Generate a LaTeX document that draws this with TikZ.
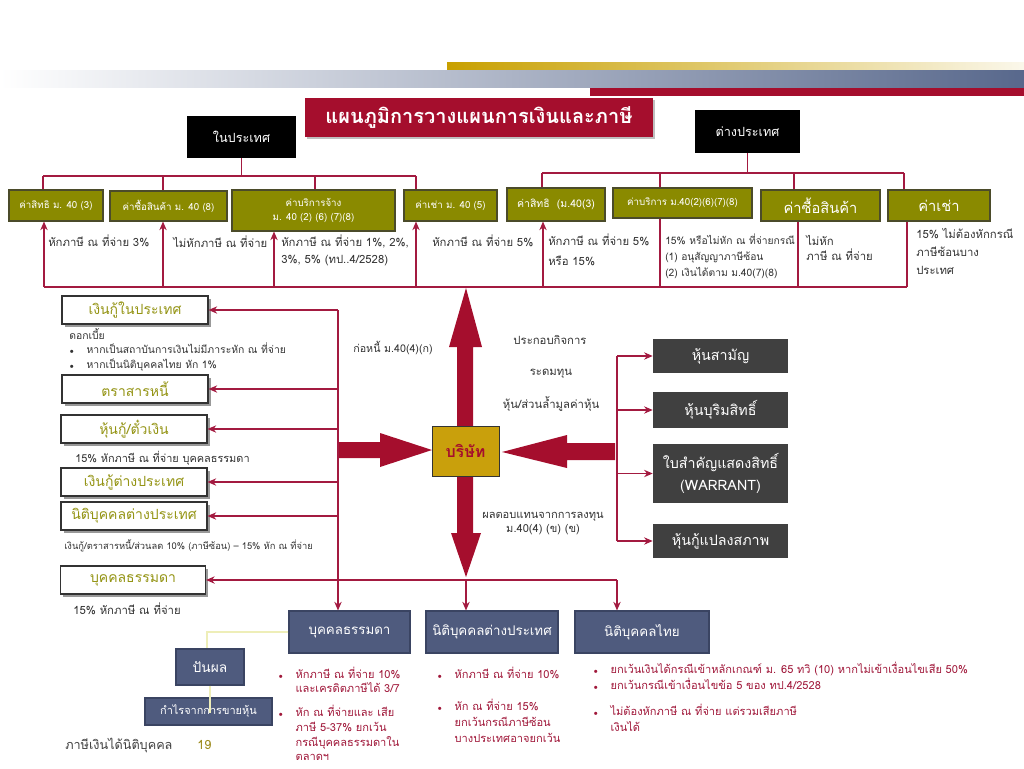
\documentclass[tikz,border=0pt]{standalone}
\usepackage{fontspec}
\setmainfont[Script=Thai]{Loma}
\usetikzlibrary{arrows.meta, shadows}
\definecolor{crim}{HTML}{A31A40}
\definecolor{darkred}{HTML}{A50E2D}
\definecolor{olivebox}{HTML}{8A8A00}
\definecolor{oliveedge}{HTML}{4B4B2A}
\definecolor{oliveink}{HTML}{949414}
\definecolor{slate}{HTML}{4F5B7E}
\definecolor{slateedge}{HTML}{3A4462}
\definecolor{darkbox}{HTML}{404040}
\definecolor{gold}{HTML}{C9A00C}
\definecolor{goldbar}{HTML}{C8A000}
\definecolor{barblue}{HTML}{58688C}
\definecolor{ink}{HTML}{333333}
\definecolor{redink}{HTML}{A0183A}
\definecolor{paleline}{HTML}{EEEEB8}
\definecolor{pageno}{HTML}{9C8A1C}
\newcommand{\bulletmark}{\makebox[13pt][l]{\fontsize{5.5}{6}\selectfont$\bullet$}}
\newcommand{\bulletgap}{\hspace*{13pt}}

\begin{document}
\begin{tikzpicture}[x=0.75pt, y=-0.75pt, >={Stealth[length=6.5pt, width=5.5pt]},
  tree/.style={crim, line width=0.9pt},
  link/.style={crim, line width=0.9pt, ->},
  fat/.style={fill=darkred},
  blackbox/.style={fill=black, text=white, inner sep=0, font=\fontsize{9.5}{11}\selectfont},
  costbox/.style={fill=olivebox, draw=oliveedge, line width=0.8pt, text=white, inner sep=0, align=center, font=\fontsize{7.3}{10}\selectfont},
  loanbox/.style={fill=white, draw=ink, line width=0.8pt, text=oliveink, inner sep=0, minimum width=109.5pt, minimum height=21pt, font=\fontsize{10.5}{12}\selectfont,
    drop shadow={shadow xshift=2pt, shadow yshift=-2.5pt, fill=gray!80, opacity=1}},
  sharebox/.style={fill=darkbox, text=white, inner sep=0, minimum width=101.25pt, align=center, font=\fontsize{10.7}{16}\selectfont},
  holderbox/.style={fill=slate, draw=slateedge, line width=0.8pt, text=white, inner sep=0, font=\fontsize{10}{12}\selectfont},
  note/.style={text=ink, anchor=west, inner sep=0, align=left, font=\fontsize{8.5}{11}\selectfont},
  rednote/.style={note, text=redink, font=\fontsize{8.3}{11}\selectfont}]
\useasboundingbox (0,0) rectangle (1024,768);

\shade[left color=goldbar, right color=goldbar!8] (447,62) rectangle (1024,70);
\shade[left color=white, middle color=gray!30, right color=barblue] (0,70) rectangle (1024,87);
\fill[darkred] (590,88) rectangle (1024,96);

\node[fill=darkred, text=white, inner sep=0, minimum width=261pt, minimum height=29.25pt, font=\fontsize{15}{17}\bfseries,
  drop shadow={shadow xshift=1.5pt, shadow yshift=-1.5pt, fill=gray!50, opacity=1}] (title) at (479,117.5) {แผนภูมิการวางแผนการเงินและภาษี};
\node[blackbox, minimum width=81.75pt, minimum height=31.5pt] (home) at (241.5,137) {ในประเทศ};
\node[blackbox, minimum width=78.75pt, minimum height=32.25pt] (abroad) at (747.5,131.5) {ต่างประเทศ};

\node[costbox, minimum width=70.5pt, minimum height=23.25pt] (royal) at (56,205.5) {ค่าสิทธิ ม. 40 (3)};
\node[costbox, minimum width=87.75pt, minimum height=22.5pt] (goods) at (168.5,206) {ค่าซื้อสินค้า ม. 40 (8)};
\node[costbox, minimum width=122.25pt, minimum height=30.75pt] (service) at (313.5,210.5) {ค่าบริการจ้าง\\ม. 40 (2) (6) (7)(8)};
\node[costbox, minimum width=69.75pt, minimum height=23.25pt] (rent) at (450.5,205.5) {ค่าเช่า ม. 40 (5)};
\node[costbox, minimum width=73.5pt, minimum height=24.75pt, font=\fontsize{7.9}{10}\selectfont] (froyal) at (556,204.5) {ค่าสิทธิ~ (ม.40(3)};
\node[costbox, minimum width=104.25pt, minimum height=22.5pt, font=\fontsize{7.3}{9}\selectfont] (fservice) at (682.5,203) {ค่าบริการ ม.40(2)(6)(7)(8)};
\node[costbox, minimum width=89.25pt, minimum height=23.25pt, font=\fontsize{11}{13}\selectfont] (fgoods) at (820.5,205.5) {ค่าซื้อสินค้า};
\node[costbox, minimum width=76.5pt, minimum height=23.25pt, font=\fontsize{11}{13}\selectfont] (frent) at (939,205.5) {ค่าเช่า};

\draw[tree] (home.south) -- (home.south |- 0,176);
\draw[tree] (43,176) -- (416,176);
\foreach \x/\b in {43/royal, 163/goods, 315/service, 416/rent}
  \draw[tree] (\x,176) -- (\b.north -| \x,0);
\draw[tree] (abroad.south) -- (abroad.south |- 0,173);
\draw[tree] (542,173) -- (904,173);
\foreach \x/\b in {542/froyal, 660/fservice, 794/fgoods, 904/frent}
  \draw[tree] (\x,173) -- (\b.north -| \x,0);

\node[note] at (48,241) {หักภาษี ณ ที่จ่าย 3\%};
\node[note] at (173,242) {ไม่หักภาษี ณ ที่จ่าย};
\node[note, font=\fontsize{8.5}{12.75}\selectfont] at (281,250.5) {หักภาษี ณ ที่จ่าย 1\%, 2\%,\\3\%, 5\% (ทป..4/2528)};
\node[note] at (432,241) {หักภาษี ณ ที่จ่าย 5\%};
\node[note, font=\fontsize{8.5}{15}\selectfont] at (548,250) {หักภาษี ณ ที่จ่าย 5\%\\หรือ 15\%};
\node[note, font=\fontsize{7.7}{12}\selectfont] at (665,256) {15\% หรือไม่หัก ณ ที่จ่ายกรณี\\(1) อนุสัญญาภาษีซ้อน\\(2) เงินได้ตาม ม.40(7)(8)};
\node[note, font=\fontsize{8.5}{11.25}\selectfont] at (806,247.5) {ไม่หัก\\ภาษี ณ ที่จ่าย};
\node[note, font=\fontsize{8.5}{13.5}\selectfont] at (916,251) {15\% ไม่ต้องหักกรณี\\ภาษีซ้อนบาง\\ประเทศ};

\draw[tree] (44,287) -- (907,287);
\foreach \x/\b in {44/royal, 163/goods, 274/service, 416/rent, 543/froyal}
  \draw[link] (\x,287) -- (\b.south -| \x,0);
\foreach \x/\b in {660/fservice, 798/fgoods, 907/frent}
  \draw[tree] (\x,287) -- (\b.south -| \x,0);

\fill[fat] (457,430) -- (457,347) -- (449,347) -- (466,288) -- (482,347) -- (473,347) -- (473,430) -- cycle;
\fill[fat] (457,472) -- (457,533) -- (451,533) -- (466,577) -- (481,533) -- (473,533) -- (473,472) -- cycle;
\fill[fat] (338,442) -- (380,442) -- (380,433) -- (432,450) -- (380,467) -- (380,458) -- (338,458) -- cycle;
\fill[fat] (615,443) -- (567,443) -- (567,435) -- (502,452) -- (567,468) -- (567,460) -- (615,460) -- cycle;
\node[draw=ink, fill=gold, text=darkred, inner sep=0, minimum width=50.25pt, minimum height=37.5pt, font=\fontsize{12}{14}\bfseries] (firm) at (465.5,451) {บริษัท};

\node[note, anchor=center, font=\fontsize{8}{10}\selectfont] at (393,348) {ก่อหนี้ ม.40(4)(ก)};
\node[note, anchor=center] at (550,340) {ประกอบกิจการ};
\node[note, anchor=center] at (551,374) {ระดมทุน};
\node[note, anchor=center] at (551,404) {หุ้น/ส่วนล้ำมูลค่าหุ้น};
\node[note, anchor=center, align=center, font=\fontsize{8.3}{10}\selectfont] at (543,523.5) {ผลตอบแทนจากการลงทุน\\ม.40(4) (ข) (ข)};

\node[sharebox, minimum height=25.5pt] (s1) at (720.5,356) {หุ้นสามัญ};
\node[sharebox, minimum height=27pt] (s2) at (720.5,410) {หุ้นบุริมสิทธิ์};
\node[sharebox, minimum height=44.25pt] (s3) at (720.5,473.5) {ใบสำคัญแสดงสิทธิ์\\(WARRANT)};
\node[sharebox, minimum height=25.5pt] (s4) at (720.5,541) {หุ้นกู้แปลงสภาพ};
\draw[tree] (617,356) -- (617,541);
\foreach \b in {s1, s2, s3, s4}
  \draw[link] (\b.west -| 617,0) -- (\b.west);

\node[loanbox] (l1) at (135,310) {เงินกู้ในประเทศ};
\node[loanbox] (l2) at (135,389) {ตราสารหนี้};
\node[loanbox] (l3) at (134,429) {หุ้นกู้/ตั๋วเงิน};
\node[loanbox] (l4) at (134,482) {เงินกู้ต่างประเทศ};
\node[loanbox] (l5) at (134,516) {นิติบุคคลต่างประเทศ};
\node[loanbox, minimum width=108.75pt] (l6) at (133,580) {บุคคลธรรมดา};
\draw[tree] (338,310) -- (338,580);
\foreach \b in {l1, l2, l3, l4, l5}
  \draw[link] (\b.east -| 338,0) -- (\b.east);
\draw[tree] (617,580) -- (338,580);
\draw[link] (338,580) -- (l6.east);

\node[note, font=\fontsize{7.8}{10.9}\selectfont] at (69,349.5) {ดอกเบี้ย\\\bulletmark หากเป็นสถาบันการเงินไม่มีภาระหัก ณ ที่จ่าย\\\bulletmark หากเป็นนิติบุคคลไทย หัก 1\%};
\node[note, font=\fontsize{8.2}{10}\selectfont] at (75,458) {15\% หักภาษี ณ ที่จ่าย บุคคลธรรมดา};
\node[note, font=\fontsize{7}{9}\selectfont] at (64,546) {เงินกู้/ตราสารหนี้/ส่วนลด 10\% (ภาษีซ้อน) -- 15\% หัก ณ ที่จ่าย};
\node[note] at (73,609) {15\% หักภาษี ณ ที่จ่าย};

\node[holderbox, minimum width=90.75pt, minimum height=31.5pt] (b1) at (349.5,632) {บุคคลธรรมดา};
\node[holderbox, minimum width=99pt, minimum height=31.5pt] (b2) at (492,632) {นิติบุคคลต่างประเทศ};
\node[holderbox, minimum width=100.5pt, minimum height=31.5pt] (b3) at (642,632) {นิติบุคคลไทย};
\node[holderbox, minimum width=51pt, minimum height=27pt, font=\fontsize{10.3}{12}\selectfont] (pay) at (210,667) {ปันผล};
\node[holderbox, minimum width=95.25pt, minimum height=20.25pt, font=\fontsize{8.2}{10}\selectfont] (gain) at (208.5,711.5) {กำไรจากการขายหุ้น};
\foreach \x/\b in {338/b1, 466/b2, 617/b3}
  \draw[link] (\x,580) -- (\b.north -| \x,0);
\draw[paleline, line width=0.8pt] (b1.west) -| (pay.north -| 207,0);
\draw[paleline, line width=0.8pt] (pay.south) -- (pay.south |- 0,713);

\node[rednote, font=\fontsize{8.3}{10.5}\selectfont] at (278,680) {\bulletmark หักภาษี ณ ที่จ่าย 10\%\\\bulletgap และเครดิตภาษีได้ 3/7};
\node[rednote] at (278,733) {\bulletmark หัก ณ ที่จ่ายและ เสีย\\\bulletgap ภาษี 5-37\% ยกเว้น\\\bulletgap กรณีบุคคลธรรมดาใน\\\bulletgap ตลาดฯ};
\node[rednote] at (437,673) {\bulletmark หักภาษี ณ ที่จ่าย 10\%};
\node[rednote, font=\fontsize{8.3}{12}\selectfont] at (437,721) {\bulletmark หัก ณ ที่จ่าย 15\%\\\bulletgap ยกเว้นกรณีภาษีซ้อน\\\bulletgap บางประเทศอาจยกเว้น};
\node[rednote, font=\fontsize{8.3}{12}\selectfont] at (593,676) {\bulletmark ยกเว้นเงินได้กรณีเข้าหลักเกณฑ์ ม. 65 ทวิ (10) หากไม่เข้าเงื่อนไขเสีย 50\%\\\bulletmark ยกเว้นกรณีเข้าเงื่อนไขข้อ 5 ของ ทป.4/2528};
\node[rednote, font=\fontsize{8.3}{12}\selectfont] at (593,718) {\bulletmark ไม่ต้องหักภาษี ณ ที่จ่าย แต่รวมเสียภาษี\\\bulletgap เงินได้};

\node[note, text=darkbox, font=\fontsize{9.5}{11}\selectfont] (footer) at (65,745) {ภาษีเงินได้นิติบุคคล};
\node[note, text=pageno, font=\fontsize{9.5}{11}\selectfont] (page) at (197,745) {19};
\end{tikzpicture}
\end{document}
